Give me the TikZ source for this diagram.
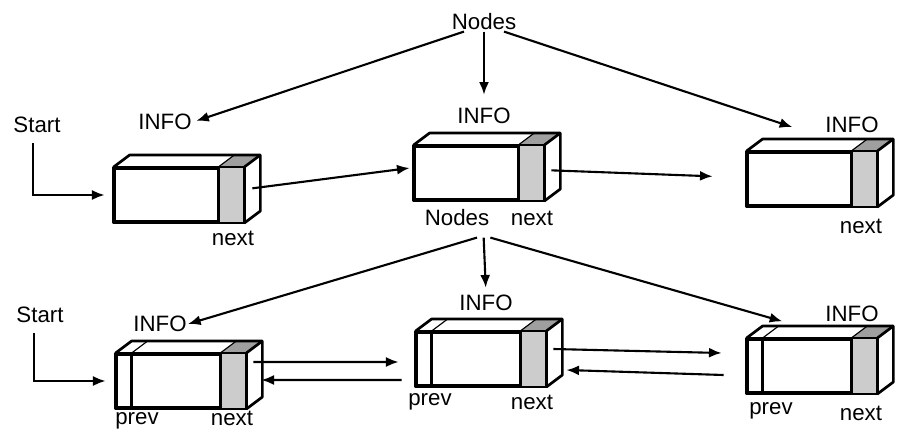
\documentclass[tikz,border=0pt]{standalone}
\usepackage{fontspec}
\setmainfont{Liberation Sans}
\usetikzlibrary{arrows.meta, calc}

\begin{document}
\begin{tikzpicture}[x=0.3mm, y=-0.3mm,
		cell/.style={draw, line width=2.3pt, minimum width=38.4mm, minimum height=16mm, inner sep=0pt},
		face/.style={line width=2.3pt, line join=round},
		lbl/.style={font=\fontsize{19}{21}\selectfont, inner sep=1pt},
		arrow/.style={-{Latex[length=3.8mm, width=3mm]}, line width=1.8pt}
	]
		\useasboundingbox (0,0) rectangle (899,434);

		% singly linked list
		\node[cell] (s1) at (179,195) {};
		\node[cell] (s2) at (479,173) {};
		\node[cell] (s3) at (812,179) {};
		% doubly linked list
		\node[cell] (d1) at (181,381) {};
		\node[cell] (d2) at (481,359) {};
		\node[cell] (d3) at (812,366) {};

		\foreach \n in {s1,s2,s3,d1,d2,d3} {
			\fill[gray!40] ($(\n.north east)+(-26,0)$) rectangle (\n.south east);
			\fill[gray!75] ($(\n.north east)+(-26,0)$) -- (\n.north east) -- ++(16,-12) -- ++(-26,0) -- cycle;
			\draw[face] (\n.north west) rectangle (\n.south east);
			\draw[face] ($(\n.north east)+(-26,0)$) -- ($(\n.south east)+(-26,0)$);
			\draw[face] (\n.north west) -- ++(16,-12) -- ($(\n.north east)+(16,-12)$)
				-- ($(\n.south east)+(16,-12)$) -- (\n.south east);
			\draw[face] (\n.north east) -- ++(16,-12);
			\draw[line width=1pt] ($(\n.north east)+(-26,0)$) -- ++(16,-12);
		}
		\foreach \n in {d1,d2,d3} {
			\draw[face] ($(\n.north west)+(16,0)$) -- ($(\n.south west)+(16,0)$);
			\draw[line width=1pt] ($(\n.north west)+(16,0)$) -- ++(16,-12);
		}

		% labels
		\node[lbl] (nodes) at (484,22) {Nodes};
		\node[lbl] (start1) at (37,125) {Start};
		\node[lbl] (info1) at (165,122) {INFO};
		\node[lbl] (info2) at (484,116) {INFO};
		\node[lbl] (info3) at (852,125) {INFO};
		\node[lbl] (next1) at (233,238) {next};
		\node[lbl] (hub) at (457,218) {Nodes};
		\node[lbl] (next2) at (532,218) {next};
		\node[lbl] (next3) at (861,226) {next};

		\node[lbl] (start2) at (40,315) {Start};
		\node[lbl] (info4) at (160,324) {INFO};
		\node[lbl] (info5) at (486,303) {INFO};
		\node[lbl] (info6) at (852,314) {INFO};
		\node[lbl] (prev4) at (137,421) {prev};
		\node[lbl] (next4) at (232,418) {next};
		\node[lbl] (prev5) at (430,402) {prev};
		\node[lbl] (next5) at (532,402) {next};
		\node[lbl] (prev6) at (771,411) {prev};
		\node[lbl] (next6) at (861,413) {next};

		% start pointers
		\draw[arrow] ([xshift=-1.2mm, yshift=-2.7mm]start1.south) |- ([xshift=-2.7mm]s1.west);
		\draw[arrow] ([xshift=-1.8mm, yshift=-2.7mm]start2.south) |- ([xshift=-3mm]d1.west);

		% nodes -> INFO
		\draw[arrow, shorten >=1mm] ([xshift=-6mm]nodes.south) -- (info1.east);
		\draw[arrow, shorten >=3.6mm] (nodes.south) -- (info2.north);
		\draw[arrow, shorten >=10mm] ([xshift=6mm]nodes.south) -- ([yshift=-1mm]info3.south west);
		\draw[arrow] ([xshift=6mm, yshift=-3mm]hub.south) -- (info4.east);
		\draw[arrow, shorten >=1.8mm] ([xshift=8mm, yshift=-3mm]hub.south) -- (info5.north);
		\draw[arrow, shorten >=13mm] ([xshift=10mm, yshift=-3mm]hub.south) -- ([yshift=-3mm]info6.south west);

		% next / prev links
		\draw[arrow] ([xshift=2.4mm, yshift=2mm]s1.east) -- ([xshift=-1.2mm, yshift=1.5mm]s2.west);
		\draw[arrow] ([xshift=2.1mm, yshift=0.8mm]s2.east) -- ([xshift=-10.2mm, yshift=0.8mm]s3.west);
		\draw[arrow] ([xshift=2.1mm, yshift=5.7mm]d1.east) -- ([xshift=-5.1mm, yshift=-0.9mm]d2.west);
		\draw[arrow] ([xshift=-4.2mm, yshift=-6.3mm]d2.west) -- ([xshift=4.5mm, yshift=0.3mm]d1.east);
		\draw[arrow] ([xshift=2.1mm, yshift=3mm]d2.east) -- ([xshift=-7.5mm, yshift=3.9mm]d3.west);
		\draw[arrow] ([xshift=-6.9mm, yshift=-2.7mm]d3.west) -- ([xshift=6mm, yshift=-3.3mm]d2.east);
	\end{tikzpicture}
\end{document}
